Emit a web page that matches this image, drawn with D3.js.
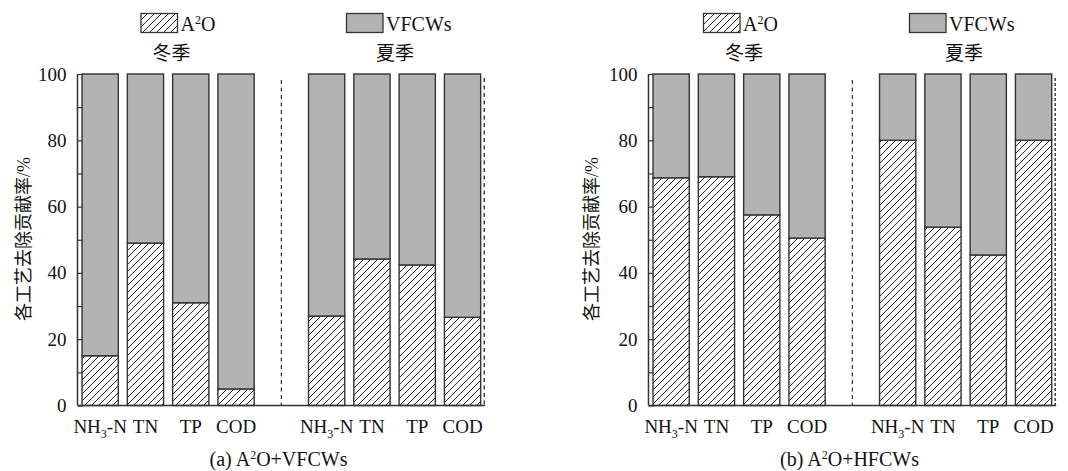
<!DOCTYPE html>
<html><head><meta charset="utf-8">
<script src="https://cdn.jsdelivr.net/npm/d3@7"></script>
<style>
html,body{margin:0;padding:0;background:#fff;}
svg{display:block;font-family:"Liberation Serif","Times New Roman","Noto Sans CJK SC",serif;}
</style></head>
<body>
<svg id="chart" width="1068" height="471"></svg>
<script>
// ---- data ----
const categories = ["NH3-N", "TN", "TP", "COD"];
const seasons = ["冬季", "夏季"];
const seriesNames = ["A2O", "VFCWs"];
const yTicks = [0, 20, 40, 60, 80, 100];
const yMinorTicks = [10, 30, 50, 70, 90];
// panel (a) A2O+VFCWs
const aWinterA2O   = [15, 49, 31, 5];
const aWinterVFCW  = [85, 51, 69, 95];
const aSummerA2O   = [27, 44.2, 42.4, 26.6];
const aSummerVFCW  = [73, 55.8, 57.6, 73.4];
// panel (b) A2O+HFCWs
const bWinterA2O   = [68.7, 69, 57.5, 50.5];
const bWinterVFCW  = [31.3, 31, 42.5, 49.5];
const bSummerA2O   = [80, 53.8, 45.4, 80];
const bSummerVFCW  = [20, 46.2, 54.6, 20];

const svg = d3.select("#chart");
const defs = svg.append("defs");
const pat = defs.append("pattern").attr("id", "hatch")
  .attr("patternUnits", "userSpaceOnUse").attr("width", 7).attr("height", 7);
pat.append("rect").attr("width", 7).attr("height", 7).attr("fill", "#fff");
pat.append("path").attr("d", "M0,7 L7,0 M-1,1 L1,-1 M6,8 L8,6")
  .attr("stroke", "#222").attr("stroke-width", 1);

const GRAY = "#b3b3b3", EDGE = "#333";
const y = d3.scaleLinear().domain([0, 100]).range([405.5, 74]);

function drawPanel(cfg) {
  const slots = ["w0","w1","w2","w3","sep","s0","s1","s2","s3"];
  const x = d3.scaleBand().domain(slots).range([cfg.x0, cfg.x0 + 407.7])
    .paddingInner(0.2).paddingOuter(0.1);
  const g = svg.append("g");

  const rows = [];
  categories.forEach((c, i) => {
    rows.push({slot: "w" + i, cat: c, a: cfg.winterA[i], v: cfg.winterV[i]});
    rows.push({slot: "s" + i, cat: c, a: cfg.summerA[i], v: cfg.summerV[i]});
  });
  const stack = d3.stack().keys(["a", "v"])(rows);

  stack.forEach((layer, li) => {
    g.append("g").selectAll("rect").data(layer).join("rect")
      .attr("x", d => x(d.data.slot))
      .attr("width", x.bandwidth())
      .attr("y", d => y(d[1]))
      .attr("height", d => y(d[0]) - y(d[1]))
      .attr("fill", li === 0 ? "url(#hatch)" : GRAY)
      .attr("stroke", EDGE).attr("stroke-width", 1.4);
  });

  // y axis
  const ax = d3.axisLeft(y).tickValues(yTicks).tickSize(-5).tickPadding(11);
  const axG = g.append("g").attr("transform", `translate(${cfg.x0},0)`).call(ax);
  axG.select(".domain").attr("stroke", EDGE).attr("stroke-width", 1.5).attr("d", `M0,${y(100)}V${y(0)}`);
  axG.selectAll(".tick line").attr("stroke", EDGE).attr("stroke-width", 1.2);
  axG.selectAll(".tick text").attr("font-size", 19).attr("fill", "#111")
    .attr("font-family", "Liberation Serif");
  const axMinor = d3.axisLeft(y).tickValues(yMinorTicks).tickSize(-5).tickFormat("");
  const mG = g.append("g").attr("transform", `translate(${cfg.x0},0)`).call(axMinor);
  mG.select(".domain").remove();
  mG.selectAll(".tick line").attr("stroke", EDGE).attr("stroke-width", 1.2);

  // baseline
  g.append("line").attr("x1", cfg.x0).attr("x2", cfg.x0 + 407.7)
    .attr("y1", y(0)).attr("y2", y(0)).attr("stroke", EDGE).attr("stroke-width", 1.6);
  // dashed separators
  const sepX = x("sep") + x.bandwidth() / 2;
  g.append("line").attr("x1", sepX).attr("x2", sepX).attr("y1", 80).attr("y2", y(0))
    .attr("stroke", "#333").attr("stroke-width", 1.2).attr("stroke-dasharray", "4,3.5");
  const rx = cfg.x0 + 407.7 - 1;
  g.append("line").attr("x1", rx).attr("x2", rx).attr("y1", 78).attr("y2", y(0))
    .attr("stroke", "#333").attr("stroke-width", 1.4).attr("stroke-dasharray", cfg.rightDash);

  // category labels
  rows.forEach(r => {
    const t = g.append("text").attr("x", x(r.slot) + x.bandwidth() / 2).attr("y", 433)
      .attr("text-anchor", "middle").attr("font-size", 19).attr("fill", "#111");
    if (r.cat === "NH3-N") {
      t.append("tspan").text("NH");
      t.append("tspan").attr("font-size", 12).attr("dy", 5).text("3");
      t.append("tspan").attr("dy", -5).text("-N");
    } else t.text(r.cat);
  });

  // y label
  g.append("text").attr("transform", `translate(${cfg.x0 + cfg.ylabX},239) rotate(-90)`)
    .attr("x", 0).attr("y", 0).attr("dy", "0.35em")
    .attr("text-anchor", "middle").attr("font-size", 18).attr("fill", "#111")
    .text("各工艺去除贡献率/%");

  // legend
  const lg = g.append("g");
  const items = [
    {name: seriesNames[0], fill: "url(#hatch)", dx: cfg.leg[0]},
    {name: seriesNames[1], fill: GRAY, dx: cfg.leg[1]}
  ];
  items.forEach(it => {
    lg.append("rect").attr("x", cfg.x0 + it.dx).attr("y", 13.5).attr("width", 36.5).attr("height", 19)
      .attr("fill", it.fill).attr("stroke", EDGE).attr("stroke-width", 1.3);
    const t = lg.append("text").attr("x", cfg.x0 + it.dx + 39.5).attr("y", 30.5)
      .attr("font-size", 20).attr("fill", "#111");
    if (it.name === "A2O") {
      t.append("tspan").text("A");
      t.append("tspan").attr("font-size", 12).attr("dy", -7).text("2");
      t.append("tspan").attr("dy", 7).text("O");
    } else t.text(it.name);
  });
  // season labels
  [cfg.seasonX[0], cfg.seasonX[1]].forEach((sx, i) => {
    g.append("text").attr("x", cfg.x0 + sx).attr("y", 59.5).attr("text-anchor", "middle")
      .attr("font-size", 19).attr("fill", "#111").attr("font-family", "Noto Sans CJK SC")
      .text(seasons[i]);
  });

  // caption
  const cap = g.append("text").attr("x", cfg.x0 + cfg.capX).attr("y", 466)
    .attr("text-anchor", "middle").attr("font-size", 20).attr("fill", "#111");
  cap.append("tspan").text(cfg.capPre + " A");
  cap.append("tspan").attr("font-size", 12).attr("dy", -7).text("2");
  cap.append("tspan").attr("dy", 7).text(cfg.capPost);
}

drawPanel({x0: 77.5, winterA: aWinterA2O, winterV: aWinterVFCW, summerA: aSummerA2O, summerV: aSummerVFCW,
  leg: [63.5, 269], seasonX: [94, 317.5], capX: 201, capPre: "(a)", capPost: "O+VFCWs", rightDash: "4,3.5", ylabX: -54});
drawPanel({x0: 648.5, winterA: bWinterA2O, winterV: bWinterVFCW, summerA: bSummerA2O, summerV: bSummerVFCW,
  leg: [55, 261], seasonX: [95.5, 315.5], capX: 201, capPre: "(b)", capPost: "O+HFCWs", rightDash: "3,2", ylabX: -57});
</script>
</body></html>
